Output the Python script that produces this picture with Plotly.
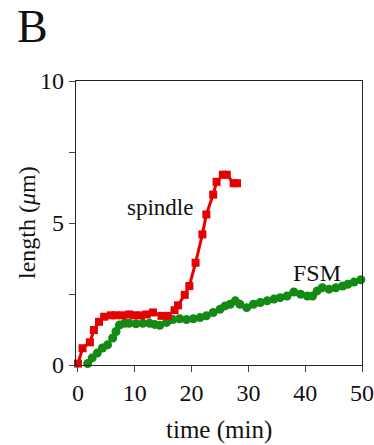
import plotly.graph_objects as go

spindle_t = [0, 0.8, 2.1, 2.8, 3.7, 4.6, 5.8, 6.7, 7.9, 9.0, 9.9, 11.1, 12.1, 13.2, 14.7, 15.8,
             17.0, 17.6, 18.8, 19.6, 20.7, 21.9, 22.6, 23.8, 24.4, 25.5, 26.2, 27.4, 28.0]
spindle_len = [0.05, 0.59, 0.8, 1.23, 1.52, 1.7, 1.75, 1.75, 1.75, 1.78, 1.75, 1.75, 1.78, 1.85, 1.73, 1.73,
               1.93, 2.1, 2.47, 2.78, 3.6, 4.6, 5.3, 6.0, 6.45, 6.7, 6.7, 6.4, 6.4]

fsm_t = [1.7, 2.5, 3.4, 4.3, 5.2, 6.1, 6.7, 7.3, 8.2, 9.0, 10.2, 11.4, 12.6, 13.5, 14.4, 15.6, 16.7,
         17.9, 19.1, 20.3, 21.5, 22.6, 23.8, 25.0, 25.9, 26.8, 27.7, 28.5, 29.7, 30.9, 32.1, 33.3,
         34.5, 35.6, 36.8, 38.0, 39.2, 40.4, 41.3, 42.1, 43.0, 44.2, 45.4, 46.6, 47.5, 48.6, 49.8]
fsm_len = [0.05, 0.25, 0.42, 0.6, 0.71, 0.95, 1.18, 1.41, 1.47, 1.47, 1.45, 1.47, 1.47, 1.43, 1.4, 1.5, 1.6,
           1.63, 1.6, 1.63, 1.67, 1.73, 1.85, 1.96, 2.08, 2.14, 2.26, 2.14, 2.02, 2.14, 2.2, 2.26,
           2.32, 2.37, 2.43, 2.57, 2.49, 2.43, 2.43, 2.61, 2.72, 2.67, 2.72, 2.78, 2.84, 2.92, 3.0]

x_ticks = [0, 10, 20, 30, 40, 50]
y_ticks = [0, 2.5, 5, 7.5, 10]
y_ticktext = ["0", "", "5", "", "10"]

RED = "#e60000"
GREEN = "#138a13"
FONT = "Liberation Serif"
INK = "#111111"

fig = go.Figure()
fig.add_trace(go.Scatter(x=fsm_t, y=fsm_len, mode="lines+markers",
                         line=dict(color=GREEN, width=3),
                         marker=dict(symbol="circle", size=9, color=GREEN),
                         cliponaxis=False, showlegend=False))
fig.add_trace(go.Scatter(x=spindle_t, y=spindle_len, mode="lines+markers",
                         line=dict(color=RED, width=3),
                         marker=dict(symbol="square", size=8, color=RED),
                         cliponaxis=False, showlegend=False))

fig.update_layout(
    width=374, height=445,
    margin=dict(l=76, r=12, t=81, b=80, autoexpand=False),
    paper_bgcolor="white", plot_bgcolor="white",
    font=dict(family=FONT, size=24, color=INK),
    xaxis=dict(range=[-0.35, 50], tickvals=x_ticks, ticks="outside", ticklen=6, tickwidth=1.3,
               showline=True, linecolor="#222", linewidth=1.3, mirror=True, showgrid=False,
               zeroline=False, tickfont=dict(size=24), automargin=False),
    yaxis=dict(range=[0, 10], tickvals=y_ticks, ticktext=y_ticktext, ticks="outside", ticklen=6,
               tickwidth=1.3, showline=True, linecolor="#222", linewidth=1.3, mirror=True,
               showgrid=False, zeroline=False, tickfont=dict(size=24), automargin=False),
    annotations=[
        dict(text="B", x=-0.2135, y=1.192, xref="paper", yref="paper", showarrow=False,
             xanchor="left", yanchor="middle", font=dict(size=46, family=FONT, color=INK)),
        dict(text="time (min)", x=0.5, y=0, yshift=-65, xref="paper", yref="paper",
             showarrow=False, xanchor="center", yanchor="middle",
             font=dict(size=25, family=FONT, color=INK)),
        dict(text="length (<i>μ</i>m)", x=0, xshift=-49, y=0.5, xref="paper", yref="paper",
             showarrow=False, xanchor="center", yanchor="middle", textangle=-90,
             font=dict(size=24, family=FONT, color=INK)),
        dict(text="spindle", x=14.4, y=5.56, xref="x", yref="y", showarrow=False,
             xanchor="center", yanchor="middle", font=dict(size=23, family=FONT, color=INK)),
        dict(text="FSM", x=42.1, y=3.24, xref="x", yref="y", showarrow=False,
             xanchor="center", yanchor="middle", font=dict(size=24, family=FONT, color=INK)),
    ],
)

fig.write_html("out.html", config={"displayModeBar": False},
               post_script="document.body.style.margin='0';document.body.style.overflow='hidden';")
